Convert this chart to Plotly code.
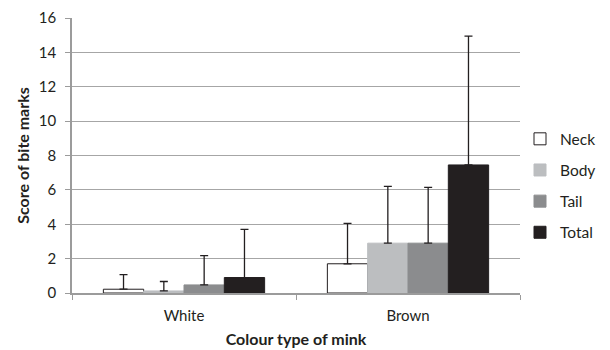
import plotly.graph_objects as go

categories = ["White", "Brown"]
series_names = ["Neck", "Body", "Tail", "Total"]
means = {
    "Neck": [0.22, 1.7],
    "Body": [0.12, 2.9],
    "Tail": [0.47, 2.9],
    "Total": [0.9, 7.45],
}
errors = {
    "Neck": [0.85, 2.35],
    "Body": [0.55, 3.3],
    "Tail": [1.7, 3.25],
    "Total": [2.8, 7.5],
}
fills = {"Neck": "#ffffff", "Body": "#bcbec0", "Tail": "#8b8c8e", "Total": "#231f20"}
edges = {"Neck": "#231f20", "Body": "#bcbec0", "Tail": "#8b8c8e", "Total": "#231f20"}
y_ticks = [0, 2, 4, 6, 8, 10, 12, 14, 16]

fig = go.Figure()
for name in series_names:
    fig.add_trace(go.Bar(
        name=name, x=categories, y=means[name],
        marker=dict(color=fills[name], line=dict(color=edges[name], width=1)),
        error_y=dict(type="data", array=errors[name], arrayminus=[0, 0],
                     symmetric=False, color="#231f20", thickness=1.3, width=4),
        legendgroup=name,
    ))

font_family = "Lato, Open Sans, sans-serif"
fig.update_layout(
    width=602, height=342,
    margin=dict(l=64, r=90, t=10, b=57, autoexpand=False),
    paper_bgcolor="white", plot_bgcolor="white",
    barmode="group", bargap=0.28, bargroupgap=0,
    font=dict(family=font_family, size=15, color="#231f20"),
    showlegend=True,
    legend=dict(x=1.0, y=0.39, xanchor="left", yanchor="middle",
                traceorder="grouped", tracegroupgap=8,
                font=dict(size=15.5), itemwidth=30),
    xaxis=dict(
        title=dict(text="<b>Colour type of mink</b>", font=dict(size=16), standoff=11),
        showline=True, linecolor="#9b9b9b", linewidth=1.5,
        ticks="outside", tickson="boundaries", ticklen=5, tickcolor="#9b9b9b",
        tickfont=dict(size=15), ticklabelstandoff=8,
    ),
    yaxis=dict(
        title=dict(text="<b>Score of bite marks</b>", font=dict(size=16), standoff=5),
        range=[0, 16], tickvals=y_ticks,
        showline=True, linecolor="#9b9b9b", linewidth=1.5,
        ticks="outside", ticklen=5, tickcolor="#9b9b9b",
        showgrid=True, gridcolor="#a6a6a6", gridwidth=1.2,
        zeroline=False, tickfont=dict(size=15), ticklabelstandoff=6,
    ),
)

fig.write_html("out.html")
